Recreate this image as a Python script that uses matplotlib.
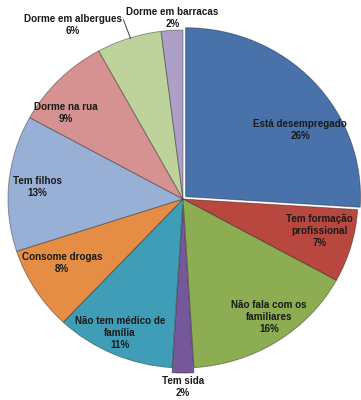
import matplotlib
matplotlib.use("Agg")
import matplotlib.pyplot as plt
import numpy as np

# dados do gráfico (percentagens)
categorias = ["Está desempregado", "Tem formação\nprofissional", "Não fala com os\nfamiliares",
              "Tem sida", "Não tem médico de\nfamília", "Consome drogas", "Tem filhos",
              "Dorme na rua", "Dorme em albergues", "Dorme em barracas"]
valores = [26, 7, 16, 2, 11, 8, 13, 9, 6, 2]
cores = ["#4872A9", "#B8473F", "#8CAD52", "#74589A", "#3F9DB8",
         "#E58D45", "#98B0D6", "#D69290", "#BED39C", "#ADA0C6"]

# posição dos rótulos (em unidades do raio, relativo ao centro)
pos_rotulos = [(0.67, 0.41), (0.78, -0.19), (0.49, -0.70), (0.0, -1.11), (-0.36, -0.79),
               (-0.69, -0.38), (-0.83, 0.07), (-0.67, 0.51), (-0.63, 1.03), (-0.06, 1.07)]
explode = [0.02, 0, 0, 0.03, 0, 0, 0, 0, 0, 0]

plt.rcParams["font.family"] = ["Liberation Sans", "DejaVu Sans"]

fig = plt.figure(figsize=(3.61, 4.0), dpi=100)
ax = fig.add_axes([8 / 361, (400 - 199 - 169) / 400, 350 / 361, 338 / 400])

wedges, _ = ax.pie(valores, colors=cores, startangle=90, counterclock=False,
                   explode=explode, radius=1,
                   wedgeprops=dict(edgecolor=(0, 0, 0, 0.35), linewidth=0.7))
for w in wedges:
    w.set_clip_on(False)

for nome, v, (x, y) in zip(categorias, valores, pos_rotulos):
    ax.text(x, y, f"{nome}\n{v}%", ha="center", va="center", fontsize=7.1,
            fontweight="bold", color="#1a1a1a", linespacing=1.25, clip_on=False)

# linha de chamada para "Dorme em albergues"
ax.plot([-0.34, -0.30], [1.06, 0.95], color="#404040", linewidth=0.7, clip_on=False)

ax.set_xlim(-1, 1)
ax.set_ylim(-1, 1)
ax.set_aspect("auto")
ax.axis("off")

fig.savefig("out.png", dpi=100)
